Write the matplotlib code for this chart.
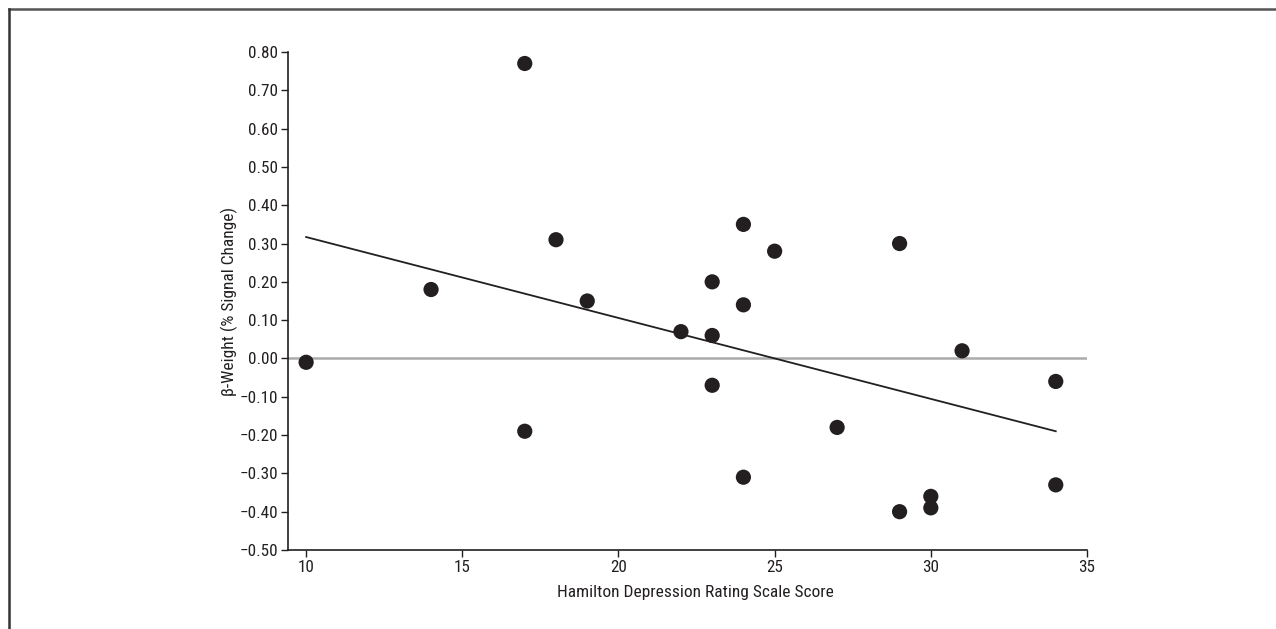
import matplotlib
matplotlib.use("Agg")
import matplotlib.pyplot as plt
from matplotlib.lines import Line2D
from matplotlib import font_manager

# Data
hamd = [10, 14, 17, 17, 18, 19, 22, 23, 23, 23, 24, 24, 24, 25, 27, 29, 29, 30, 30, 31, 34, 34]
beta = [-0.01, 0.18, 0.77, -0.19, 0.31, 0.15, 0.07, 0.20, 0.06, -0.07, 0.35, 0.14, -0.31,
        0.28, -0.18, 0.30, -0.40, -0.36, -0.39, 0.02, -0.06, -0.33]
fit_x = [10, 34]
fit_y = [0.317, -0.19]
xticks = [10, 15, 20, 25, 30, 35]
yticks = [0.80, 0.70, 0.60, 0.50, 0.40, 0.30, 0.20, 0.10, 0.00, -0.10, -0.20, -0.30, -0.40, -0.50]

names = {f.name for f in font_manager.fontManager.ttflist}
fam = [f for f in ['Liberation Sans Narrow', 'Roboto Condensed', 'Liberation Sans', 'DejaVu Sans'] if f in names]
plt.rcParams['font.family'] = fam

ink = '#231f20'
fig = plt.figure(figsize=(12.76, 6.29), dpi=100)
ax = fig.add_axes([288/1276, 1-550/629, (1087-288)/1276, (550-52)/629])

ax.axhline(0, color='#ababab', lw=1.8, zorder=1)
ax.plot(fit_x, fit_y, color=ink, lw=1.3, zorder=2)
ax.scatter(hamd, beta, s=120, color=ink, edgecolors='none', zorder=3)

ax.set_xlim(9.42, 35)
ax.set_ylim(-0.5, 0.8)
ax.set_xticks(xticks)
ax.set_xticklabels([str(t) for t in xticks])
ax.set_yticks(yticks)
ax.set_yticklabels([f"{t:.2f}".replace('-', '\u2212') for t in yticks])
for s in ['top', 'right']:
    ax.spines[s].set_visible(False)
for s in ['left', 'bottom']:
    ax.spines[s].set_color(ink)
    ax.spines[s].set_linewidth(1.2)
ax.tick_params(direction='out', length=5, width=1.0, color=ink, labelcolor=ink, labelsize=12.3, pad=2)
ax.set_xlabel('Hamilton Depression Rating Scale Score', fontsize=12.5, color=ink, labelpad=6)
ax.xaxis.set_label_coords(0.51, -0.07)
ax.set_ylabel('\u03b2-Weight (% Signal Change)', fontsize=12.5, color=ink, labelpad=1)

# figure frame (top and left)
fig.add_artist(Line2D([9/1276, 1], [1-9/629, 1-9/629], transform=fig.transFigure, color='#555555', lw=1.8))
fig.add_artist(Line2D([9/1276, 9/1276], [0, 1-9/629], transform=fig.transFigure, color='#333333', lw=1.8))

fig.savefig('out.png', dpi=100)
